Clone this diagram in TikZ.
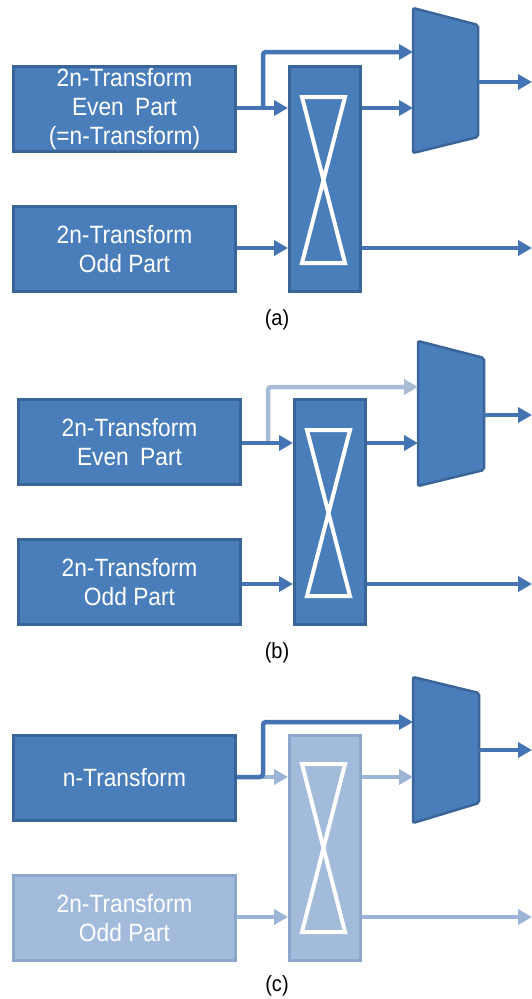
\documentclass[tikz,border=0pt]{standalone}
\usepackage{fontspec}
\setmainfont{Liberation Sans}
\newfontfamily\narrowsans{Liberation Sans}[FakeStretch=0.91]
\usetikzlibrary{arrows.meta}
\definecolor{boxfill}{HTML}{4A7EBB}
\definecolor{boxedge}{HTML}{3A6599}
\definecolor{wire}{HTML}{4474B3}
\definecolor{lfill}{HTML}{A3BBDB}
\definecolor{ledge}{HTML}{8CA7CC}
\definecolor{lwire}{HTML}{9CB4D6}
\definecolor{lwireb}{HTML}{A9BCD5}
\tikzset{
  blk/.style={draw=boxedge, fill=boxfill, line width=3pt, minimum width=222pt,
    minimum height=85pt, inner sep=0pt, text=white, align=center,
    font=\narrowsans\fontsize{25}{29}\selectfont},
  lblk/.style={blk, draw=ledge, fill=lfill},
  xbar/.style={draw=boxedge, fill=boxfill, line width=3pt, minimum width=71pt,
    minimum height=225pt, inner sep=0pt},
  lxbar/.style={xbar, draw=ledge, fill=lfill},
  hour/.style={draw=white, line width=4pt, line join=miter},
  mux/.style={draw=boxedge, fill=boxfill, line width=2.5pt, rounded corners=2pt},
  arr/.style={draw=wire, line width=4.5pt, rounded corners=3pt,
    -{Triangle[length=14pt,width=15pt]}},
  larr/.style={arr, draw=lwire},
  larrb/.style={arr, draw=lwireb},
  sublabel/.style={font=\narrowsans\fontsize{22}{26}\selectfont, inner sep=0pt}
}
\begin{document}
\begin{tikzpicture}[x=1pt, y=-1pt]
\useasboundingbox (0,0) rectangle (532,999);
\fill[white] (0,0) rectangle (532,999);

% ---------- (a) ----------
\begin{scope}
  \node[blk] (a-even) at (124.5,109) {2n-Transform\\Even\hspace{0.2em} Part\\(=n-Transform)};
  \node[blk] (a-odd) at (124.5,249) {2n-Transform\\Odd Part};
  \node[xbar] (a-x) at (325,179) {};
  \draw[hour] (302,97) -- (345,97) -- (302,263) -- (345,263) -- cycle;
  \draw[mux] (413,8) -- (478,25) -- (478,137) -- (413,153) -- cycle;
  \coordinate (a-m1) at (413,52);
  \coordinate (a-m2) at (413,108);
  \coordinate (a-mo) at (478,82);
  \coordinate (a-br) at (263,108);
  \coordinate (a-o1) at (532,82);
  \coordinate (a-o2) at (532,248);
  \draw[arr] (a-br) |- (a-m1);
  \draw[arr] (a-even.east |- a-br) -- (a-x.west |- a-br);
  \draw[arr] (a-odd.east |- a-o2) -- (a-x.west |- a-o2);
  \draw[arr] (a-x.east |- a-m2) -- (a-m2);
  \draw[arr] (a-x.east |- a-o2) -- (a-o2);
  \draw[arr] (a-mo) -- (a-o1);
\end{scope}
\node[sublabel] (lbl-a) at (277,320) {(a)};

% ---------- (b) ----------
\begin{scope}[shift={(5,333)}]
  \node[blk] (b-even) at (124.5,109) {2n-Transform\\Even\hspace{0.2em} Part};
  \node[blk] (b-odd) at (124.5,249) {2n-Transform\\Odd Part};
  \node[xbar] (b-x) at (325,179) {};
  \draw[hour] (302,97) -- (345,97) -- (302,263) -- (345,263) -- cycle;
  \draw[mux] (413,8) -- (479,25) -- (479,137) -- (413,153) -- cycle;
  \coordinate (b-m1) at (413,54);
  \coordinate (b-m2) at (413,110);
  \coordinate (b-mo) at (479,82);
  \coordinate (b-br) at (263,110);
  \coordinate (b-o1) at (527,82);
  \coordinate (b-o2) at (527,251);
  \draw[larrb] (b-br) |- (b-m1);
  \draw[arr] (b-even.east |- b-br) -- (b-x.west |- b-br);
  \draw[arr] (b-odd.east |- b-o2) -- (b-x.west |- b-o2);
  \draw[arr] (b-x.east |- b-m2) -- (b-m2);
  \draw[arr] (b-x.east |- b-o2) -- (b-o2);
  \draw[arr] (b-mo) -- (b-o1);
\end{scope}
\node[sublabel] (lbl-b) at (277,653) {(b)};

% ---------- (c) ----------
\begin{scope}[shift={(0,668)}]
  \node[blk] (c-n) at (124.5,110) {n-Transform};
  \node[lblk] (c-odd) at (124.5,250) {2n-Transform\\Odd Part};
  \node[lxbar] (c-x) at (325,180) {};
  \draw[hour] (302,96) -- (345,96) -- (302,264) -- (345,264) -- cycle;
  \draw[mux] (413,9) -- (479,25) -- (479,135) -- (413,155) -- cycle;
  \coordinate (c-m1) at (413,54);
  \coordinate (c-m2) at (413,109);
  \coordinate (c-mo) at (479,82);
  \coordinate (c-br) at (263,109);
  \coordinate (c-o1) at (532,82);
  \coordinate (c-o2) at (532,249);
  \draw[larr] (c-br) -- (c-x.west |- c-br);
  \draw[larr] (c-odd.east |- c-o2) -- (c-x.west |- c-o2);
  \draw[larr] (c-x.east |- c-m2) -- (c-m2);
  \draw[larr] (c-x.east |- c-o2) -- (c-o2);
  \draw[arr] (c-n.east |- c-br) -- (c-br) |- (c-m1);
  \draw[arr] (c-mo) -- (c-o1);
\end{scope}
\node[sublabel] (lbl-c) at (277,986) {(c)};
\end{tikzpicture}
\end{document}
